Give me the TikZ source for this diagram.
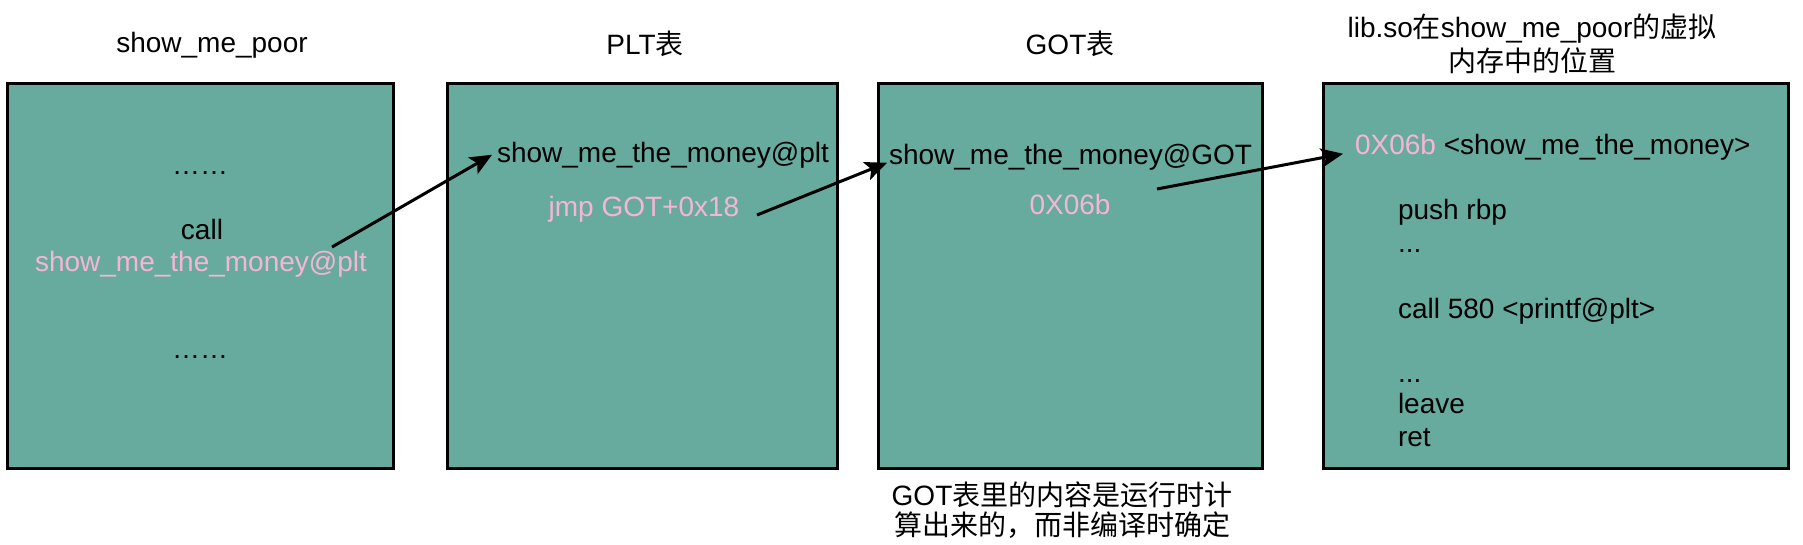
\documentclass[tikz,border=0pt]{standalone}
\usepackage{fontspec}
\setmainfont{Liberation Sans}
\newfontfamily\cjk{Noto Sans CJK SC}
\usetikzlibrary{arrows.meta,calc}
\definecolor{boxfill}{HTML}{67AB9F}
\definecolor{pinktxt}{HTML}{F5B6D6}
\begin{document}
\begin{tikzpicture}[x=1pt,y=-1pt,
  box/.style={draw=black, line width=3pt, fill=boxfill, minimum width=#1, minimum height=384pt, inner sep=0pt},
  txt/.style={inner sep=0pt, outer sep=0pt, font=\fontsize{28}{34}\selectfont},
  pk/.style={txt, text=pinktxt},
  arr/.style={line width=3pt, -{Stealth[length=22pt,width=19pt,inset=5pt]}}]
\useasboundingbox (0,0) rectangle (1803,545);
% boxes
\node[box=386pt] (b1) at (200,276) {};
\node[box=390pt] (b2) at (642,276) {};
\node[box=384pt] (b3) at (1070,276) {};
\node[box=465pt] (b4) at (1555.5,276) {};
% titles
\node[txt, anchor=base] (t1) at (212,53) {show\_me\_poor};
\node[txt, anchor=base] (t2) at (645,55) {PLT{\cjk 表}};
\node[txt, anchor=base] (t3) at (1070,55) {GOT{\cjk 表}};
\node[txt, anchor=base, align=center] (t4) at (1532,72) {lib.so{\cjk 在}show\_me\_poor{\cjk 的虚拟}\\{\cjk 内存中的位置}};
% box 1
\node[txt, anchor=base] (d1) at (200,175) {……};
\node[txt, anchor=base] (c1) at (202,240) {call};
\node[pk, anchor=base] (p1) at (201,272) {show\_me\_the\_money@plt};
\node[txt, anchor=base] (d2) at (200,358) {……};
% box 2
\node[txt, anchor=base west] (plt) at (497,163) {show\_me\_the\_money@plt};
\node[pk, anchor=base] (jmp) at (644,217) {jmp GOT+0x18};
% box 3
\node[txt, anchor=base west] (got) at (889,165) {show\_me\_the\_money@GOT};
\node[pk, anchor=base] (val) at (1070,215) {0X06b};
% box 4
\node[txt, anchor=base west] (l1) at (1355,155) {\textcolor{pinktxt}{0X06b} <show\_me\_the\_money>};
\node[txt, anchor=base west] (l2) at (1398,220) {push rbp};
\node[txt, anchor=base west] (l3) at (1398,253) {...};
\node[txt, anchor=base west] (l4) at (1398,318) {call 580 <printf@plt>};
\node[txt, anchor=base west] (l5) at (1398,382) {...};
\node[txt, anchor=base west] (l6) at (1398,413) {leave};
\node[txt, anchor=base west] (l7) at (1398,446) {ret};
% note
\node[txt, anchor=base, align=center, font=\fontsize{28}{30}\selectfont] (note) at (1062,535) {GOT{\cjk 表里的内容是运行时计}\\{\cjk 算出来的，而非编译时确定}};
% arrows
\coordinate (a1s) at (332,247);
\coordinate (a2s) at (757,215);
\coordinate (a3s) at (1157,189);
\draw[arr] (a1s) -- ($(plt.west)+(-5,-1)$);
\draw[arr] (a2s) -- ($(got.west)+(-2,5)$);
\draw[arr] (a3s) -- ($(l1.west)+(-12,6)$);
\end{tikzpicture}
\end{document}
